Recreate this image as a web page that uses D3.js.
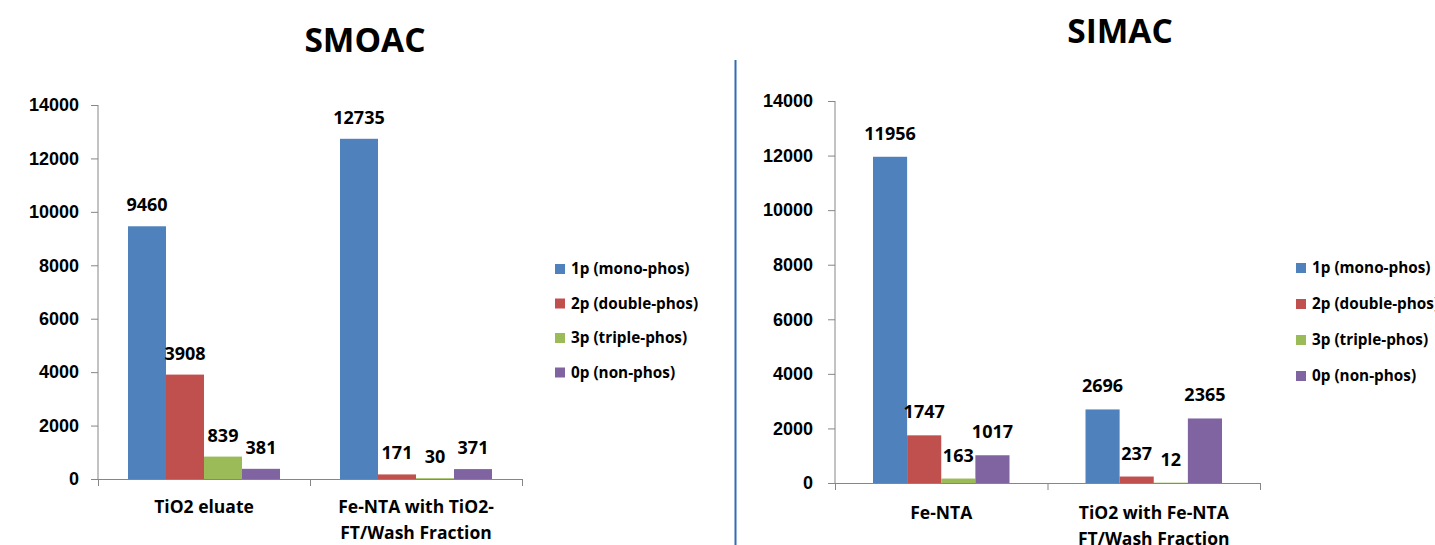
<!DOCTYPE html>
<html>
<head>
<meta charset="utf-8">
<script src="https://cdn.jsdelivr.net/npm/d3@7"></script>
<style>
  body { margin: 0; background: #fff; }
  svg { font-family: "Open Sans", "Liberation Sans", sans-serif; font-weight: bold; }
  .axis path, .axis line { stroke: #868686; }
  .axis text { font-size: 18px; font-weight: bold; fill: #000; }
</style>
</head>
<body>
<svg id="chart" width="1435" height="545"></svg>
<script>
//data
const series = ['1p (mono-phos)', '2p (double-phos)', '3p (triple-phos)', '0p (non-phos)'];
const colors = ['#4F81BD', '#C0504D', '#9BBB59', '#8064A2'];
const yTicks = [0, 2000, 4000, 6000, 8000, 10000, 12000, 14000];

const smoacCategories = [['TiO2 eluate'], ['Fe-NTA with TiO2-', 'FT/Wash Fraction']];
const smoacValues = [
  [9460, 3908, 839, 381],
  [12735, 171, 30, 371]
];

const simacCategories = [['Fe-NTA'], ['TiO2 with Fe-NTA', 'FT/Wash Fraction']];
const simacValues = [
  [11956, 1747, 163, 1017],
  [2696, 237, 12, 2365]
];

const svg = d3.select('#chart');

//divider line between the two panels
svg.append('line')
  .attr('x1', 735.5).attr('x2', 735.5)
  .attr('y1', 60).attr('y2', 545)
  .attr('stroke', '#2E6DB4')
  .attr('stroke-width', 2);

function drawChart(opt) {
  const g = svg.append('g');

  const x = d3.scaleBand()
    .domain(opt.categories.map((d, i) => i))
    .range([opt.left, opt.right]);

  const xInner = d3.scaleBand()
    .domain(series)
    .range([opt.pad, x.bandwidth() - opt.pad]);

  const y = d3.scaleLinear()
    .domain([0, 14000])
    .range([opt.bottom, opt.top]);

  //y axis
  g.append('g')
    .attr('class', 'axis')
    .attr('transform', 'translate(' + opt.left + ',0)')
    .call(d3.axisLeft(y).tickValues(yTicks).tickFormat(d3.format('d'))
      .tickSize(7).tickSizeOuter(0).tickPadding(opt.tickPad))
    .call(a => a.select('.domain').attr('d', 'M0,' + opt.top + 'V' + opt.bottom));

  //x axis baseline + boundary ticks
  g.append('line')
    .attr('x1', opt.left).attr('x2', opt.right)
    .attr('y1', opt.bottom + 0.5).attr('y2', opt.bottom + 0.5)
    .attr('stroke', '#868686');

  const bounds = opt.categories.map((d, i) => x(i)).concat([opt.right]);
  g.selectAll('.xtick')
    .data(bounds)
    .enter()
    .append('line')
      .attr('x1', d => d + 0.5).attr('x2', d => d + 0.5)
      .attr('y1', opt.bottom).attr('y2', opt.bottom + 7)
      .attr('stroke', '#868686');

  //category labels
  opt.categories.forEach((lines, i) => {
    const t = g.append('text')
      .attr('text-anchor', 'middle')
      .attr('font-size', 17.5)
      .attr('y', opt.bottom + opt.catOffset);
    lines.forEach((s, k) => {
      t.append('tspan')
        .attr('x', x(i) + x.bandwidth() / 2)
        .attr('dy', k === 0 ? 0 : 26)
        .text(s);
    });
  });

  //bars
  const groups = g.selectAll('.grp')
    .data(opt.values)
    .enter()
    .append('g')
      .attr('transform', (d, i) => 'translate(' + x(i) + ',0)');

  groups.selectAll('rect')
    .data(d => d.map((v, j) => ({ v: v, s: series[j], c: colors[j] })))
    .enter()
    .append('rect')
      .attr('x', d => xInner(d.s))
      .attr('width', xInner.bandwidth())
      .attr('y', d => y(d.v))
      .attr('height', d => opt.bottom - y(d.v))
      .attr('fill', d => d.c);

  groups.selectAll('.lbl')
    .data(d => d.map((v, j) => ({ v: v, s: series[j] })))
    .enter()
    .append('text')
      .attr('text-anchor', 'middle')
      .attr('font-size', 18)
      .attr('x', d => xInner(d.s) + xInner.bandwidth() / 2)
      .attr('y', d => y(d.v) - opt.labelGap)
      .text(d => d.v);

  //title
  g.append('text')
    .attr('x', opt.titleX)
    .attr('y', opt.titleY)
    .attr('text-anchor', 'middle')
    .attr('font-size', 33.5)
    .text(opt.title);

  //legend
  const leg = g.selectAll('.leg')
    .data(series)
    .enter()
    .append('g')
      .attr('transform', (d, i) => 'translate(' + opt.legX + ',' + (opt.legY + i * opt.legStep) + ')');
  leg.append('rect')
    .attr('x', 0).attr('y', -5)
    .attr('width', 10).attr('height', 10)
    .attr('fill', (d, i) => colors[i]);
  leg.append('text')
    .attr('x', 16)
    .attr('dy', '0.35em')
    .attr('font-size', 15.3)
    .text(d => d);
}

drawChart({
  title: 'SMOAC', titleX: 365, titleY: 52,
  categories: smoacCategories, values: smoacValues,
  left: 98, right: 522, top: 105, bottom: 479, pad: 30,
  tickPad: 12, catOffset: 34, labelGap: 15,
  legX: 555, legY: 269, legStep: 34.5
});

drawChart({
  title: 'SIMAC', titleX: 1120, titleY: 43,
  categories: simacCategories, values: simacValues,
  left: 835, right: 1260, top: 101, bottom: 483, pad: 38,
  tickPad: 15, catOffset: 36, labelGap: 17,
  legX: 1296, legY: 268, legStep: 36
});
</script>
</body>
</html>
